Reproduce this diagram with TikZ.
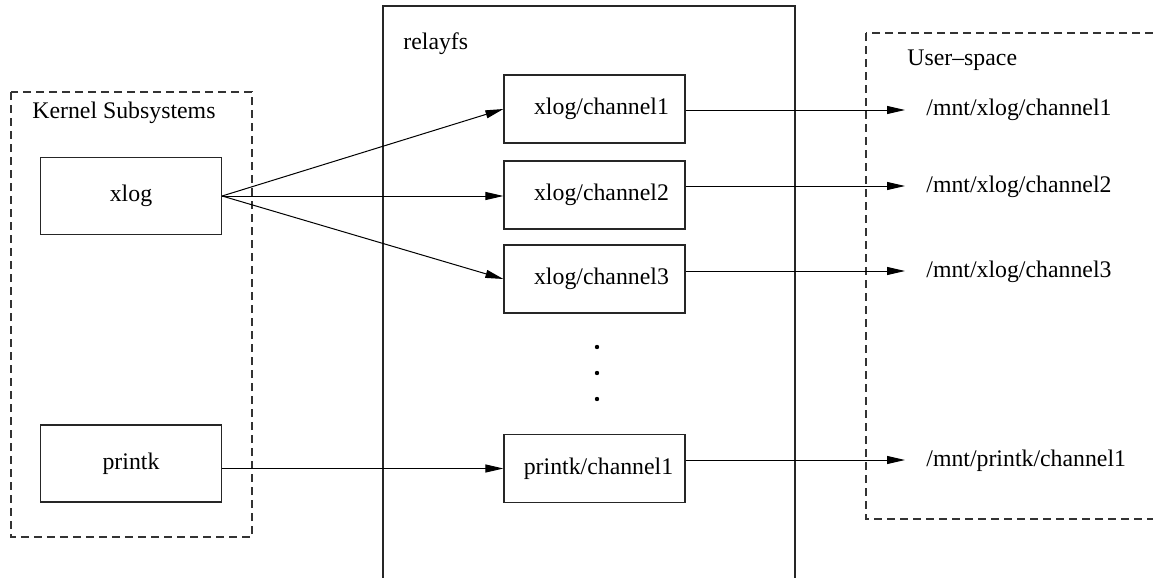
\documentclass[tikz,border=0pt]{standalone}
\usepackage{fontspec}
\setmainfont{Liberation Serif}
\usetikzlibrary{arrows.meta}
\begin{document}
\begin{tikzpicture}[x=0.5pt,y=-0.5pt,
  every node/.style={font=\fontsize{11.9}{14}\selectfont},
  group/.style={draw=black!80,line width=0.6pt,dash pattern=on 4pt off 2.5pt},
  solidgroup/.style={draw=black!85,line width=0.6pt},
  boxn/.style={draw=black!85,line width=0.6pt,minimum width=90.5pt,inner sep=0pt},
  srcbox/.style={boxn,minimum height=38.5pt},
  chbox/.style={boxn,minimum height=34pt},
  lbl/.style={inner sep=0pt},
  mntl/.style={inner sep=0pt,anchor=mid west},
  arr/.style={line width=0.5pt,-{Triangle[length=9pt,width=4pt]}}]
\useasboundingbox (0,0) rectangle (1153,578);
\clip (0,0) rectangle (1153,578);
% groups
\draw[group] (11,92) rectangle (252,537);
\draw[solidgroup] (383,6) rectangle (795,620);
\draw[group] (866,33) rectangle (1180,519);
% group labels
\node[lbl,anchor=base west] (kl) at (32,119) {Kernel Subsystems};
\node[lbl,anchor=base west] (rl) at (403,49) {relayfs};
\node[lbl,anchor=base west] (ul) at (907,65) {User--space};
% sources
\node[srcbox] (xlog) at (131,196) {xlog};
\node[srcbox] (printk) at (131,463.5) {printk};
% channels
\node[chbox] (c1) at (594.5,109) {\hspace{7pt}xlog/channel1};
\node[chbox] (c2) at (594.5,195) {\hspace{7pt}xlog/channel2};
\node[chbox] (c3) at (594.5,279) {\hspace{7pt}xlog/channel3};
\node[chbox] (pc) at (594.5,468.5) {\hspace{4pt}printk/channel1};
% dots
\fill (597,347) circle (1.1pt);
\fill (597,373) circle (1.1pt);
\fill (597,399) circle (1.1pt);
% mount points
\node[mntl] (m1) at (926,111) {/mnt/xlog/channel1};
\node[mntl] (m2) at (926,188) {/mnt/xlog/channel2};
\node[mntl] (m3) at (926,273) {/mnt/xlog/channel3};
\node[mntl] (m4) at (926,462) {/mnt/printk/channel1};
\coordinate (t1) at (905,110);
\coordinate (t2) at (905,186);
\coordinate (t3) at (905,271);
\coordinate (t4) at (905,460);
% arrows
\draw[arr] (xlog.east) -- (c1.west);
\draw[arr] (xlog.east) -- (xlog.east -| c2.west);
\draw[arr] (xlog.east) -- (c3.west);
\draw[arr] (printk.east |- pc.west) -- (pc.west);
\draw[arr] (c1.east |- t1) -- (t1);
\draw[arr] (c2.east |- t2) -- (t2);
\draw[arr] (c3.east |- t3) -- (t3);
\draw[arr] (pc.east |- t4) -- (t4);
\end{tikzpicture}
\end{document}
